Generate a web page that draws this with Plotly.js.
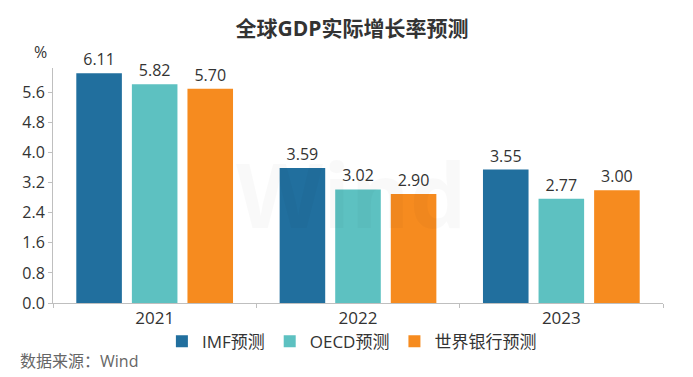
<!DOCTYPE html>
<html>
<head>
<meta charset="utf-8">
<script src="https://cdn.plot.ly/plotly-3.0.1.min.js"></script>
<style>
  html, body { margin: 0; padding: 0; background: #fff; }
  #chart { width: 693px; height: 377px; }
</style>
</head>
<body>
<div id="chart"></div>
<script>
const categories = ['2021', '2022', '2023'];
const seriesNames = ['IMF预测', 'OECD预测', '世界银行预测'];
const imfValues = [6.11, 3.59, 3.55];
const oecdValues = [5.82, 3.02, 2.77];
const worldBankValues = [5.70, 2.90, 3.00];
const yTickValues = [0.0, 0.8, 1.6, 2.4, 3.2, 4.0, 4.8, 5.6];

const colors = ['#216F9E', '#5DC1C1', '#F68B1F'];
const FONT = '"Open Sans", "Noto Sans CJK SC", sans-serif';

const allValues = [imfValues, oecdValues, worldBankValues];
const traces = allValues.map((vals, i) => ({
  type: 'bar',
  name: seriesNames[i],
  x: categories,
  y: vals,
  marker: { color: colors[i] },
  text: vals.map(v => v.toFixed(2)),
  textposition: 'outside',
  textfont: { family: FONT, size: 16, color: '#333' },
  cliponaxis: false,
  hoverinfo: 'x+y+name'
}));

const layout = {
  width: 693,
  height: 377,
  margin: { l: 53, r: 30, t: 68, b: 74 },
  paper_bgcolor: '#fff',
  plot_bgcolor: '#fff',
  font: { family: FONT, color: '#333' },
  title: {
    text: '<b>全球GDP实际增长率预测</b>',
    font: { family: FONT, size: 21, color: '#333' },
    x: 0.508, xanchor: 'center',
    y: 0.925, yanchor: 'middle'
  },
  barmode: 'group',
  bargap: 0.18,
  bargroupgap: 0.18,
  showlegend: true,
  legend: {
    orientation: 'h',
    x: 0.49, xanchor: 'center',
    y: -0.165, yanchor: 'middle',
    font: { family: FONT, size: 17, color: '#333' },
    itemwidth: 30,
    tracegroupgap: 0
  },
  xaxis: {
    type: 'category',
    showline: true,
    linecolor: '#bfbfbf',
    linewidth: 1,
    ticks: 'outside',
    tickson: 'boundaries',
    ticklen: 4,
    tickcolor: '#bfbfbf',
    tickfont: { family: FONT, size: 17, color: '#333' },
    showgrid: false,
    zeroline: false,
    fixedrange: true
  },
  xaxis2: {
    type: 'linear',
    overlaying: 'x',
    anchor: 'y',
    side: 'bottom',
    range: [-0.5, 2.5],
    tickvals: [0, 1, 2],
    ticks: 'outside',
    ticklen: 4,
    tickcolor: '#bfbfbf',
    showticklabels: false,
    showline: false,
    showgrid: false,
    zeroline: false
  },
  yaxis: {
    range: [0, 6.25],
    tickvals: yTickValues,
    ticktext: yTickValues.map(v => v.toFixed(1)),
    showline: true,
    linecolor: '#bfbfbf',
    linewidth: 1,
    ticks: 'outside',
    ticklen: 4,
    tickcolor: '#bfbfbf',
    tickfont: { family: FONT, size: 16, color: '#333' },
    showgrid: false,
    zeroline: false,
    fixedrange: true
  },
  annotations: [
    {
      text: '%', xref: 'paper', yref: 'paper',
      x: -0.02, y: 1.07, xanchor: 'center', yanchor: 'middle',
      showarrow: false, font: { family: FONT, size: 16, color: '#333' }
    },
    {
      text: '数据来源：Wind', xref: 'paper', yref: 'paper',
      x: -0.057, y: -0.245, xanchor: 'left', yanchor: 'middle',
      showarrow: false, font: { family: FONT, size: 16, color: '#666' }
    },
    {
      text: '<b>Wind</b>', xref: 'paper', yref: 'paper',
      x: 0.49, y: 0.47, xanchor: 'center', yanchor: 'middle',
      showarrow: false, font: { family: FONT, size: 90, color: 'rgba(0,0,0,0.025)' }
    }
  ]
};

Plotly.newPlot('chart', traces, layout, { displayModeBar: false, staticPlot: true });
</script>
</body>
</html>
